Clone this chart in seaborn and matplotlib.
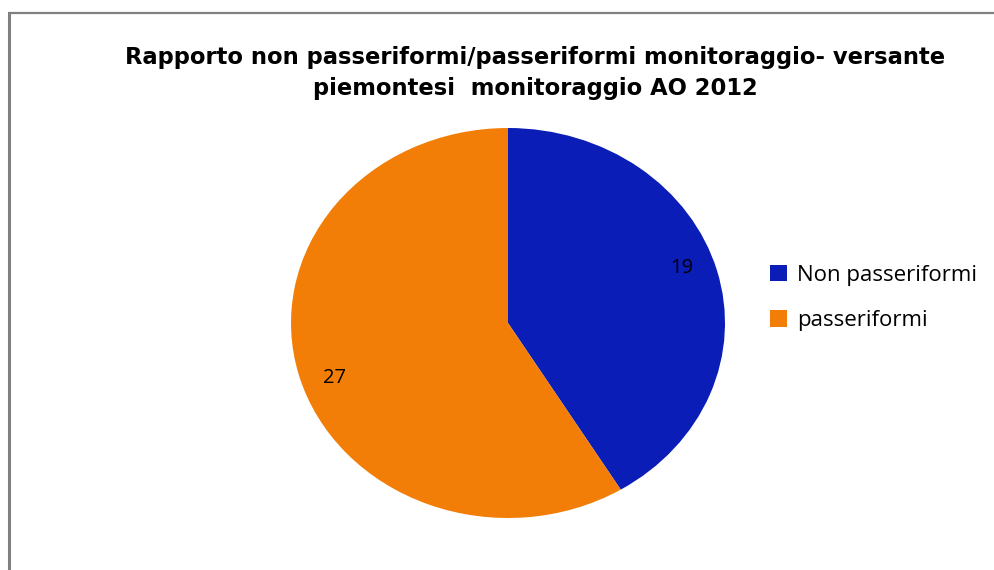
import matplotlib
matplotlib.use("Agg")
import numpy as np
import matplotlib.pyplot as plt
import seaborn as sns
from matplotlib.lines import Line2D
from matplotlib.patches import Patch

categories = ["Non passeriformi", "passeriformi"]
values = [19, 27]
colors = ["#0A1DB6", "#F27E07"]
title_lines = ["Rapporto non passeriformi/passeriformi monitoraggio- versante",
               "piemontesi  monitoraggio AO 2012"]

sns.set_theme(style="white")
plt.rcParams["font.family"] = ["DejaVu Sans"]
plt.rcParams["text.color"] = "black"

W, H = 994, 570
fig = plt.figure(figsize=(W / 100, H / 100), dpi=100)
fig.patch.set_facecolor("white")

# pie axes (elliptical pie, as in the reference)
left, right, top, bottom = 291, 725, 128, 518
ax = fig.add_axes([left / W, 1 - bottom / H, (right - left) / W, (bottom - top) / H])
total = sum(values)
wedges, texts, autotexts = ax.pie(
    values, colors=colors, startangle=90, counterclock=False,
    autopct=lambda p: f"{round(p * total / 100):d}", pctdistance=0.84,
    textprops=dict(fontsize=14.5, family="Open Sans", color="black"),
    wedgeprops=dict(linewidth=0))
# place value labels like the original (label ring slightly flattened in x)
for w, t in zip(wedges, autotexts):
    mid = np.deg2rad((w.theta1 + w.theta2) / 2)
    t.set_position((0.83 * np.cos(mid), 1.04 * np.sin(mid)))
ax.set_aspect("auto")
ax.set_xlim(-1, 1)
ax.set_ylim(-1, 1)
ax.axis("off")

# title
fig.text(535 / W, 1 - 73 / H, "\n".join(title_lines), ha="center", va="center",
         fontsize=16.3, fontweight="bold", family="DejaVu Sans", linespacing=1.45,
         color="black")

# legend
handles = [Patch(facecolor=c, edgecolor="none") for c in colors]
fig.legend(handles, categories, loc="center left",
           bbox_to_anchor=(770 / W, 1 - 298 / H), bbox_transform=fig.transFigure,
           frameon=False, borderaxespad=0, borderpad=0,
           handlelength=0.75, handleheight=0.75, handletextpad=0.45,
           labelspacing=1.1, prop=dict(family="Open Sans", size=16),
           labelcolor="black")

# frame lines (left and top)
fig.add_artist(Line2D([8.5 / W, 8.5 / W], [0, 1 - 13 / H], transform=fig.transFigure,
                      color="#808080", linewidth=2.2, solid_capstyle="butt"))
fig.add_artist(Line2D([7.5 / W, 1], [1 - 13 / H, 1 - 13 / H], transform=fig.transFigure,
                      color="#808080", linewidth=1.6, solid_capstyle="butt"))

fig.savefig("out.png", dpi=100, facecolor="white")
